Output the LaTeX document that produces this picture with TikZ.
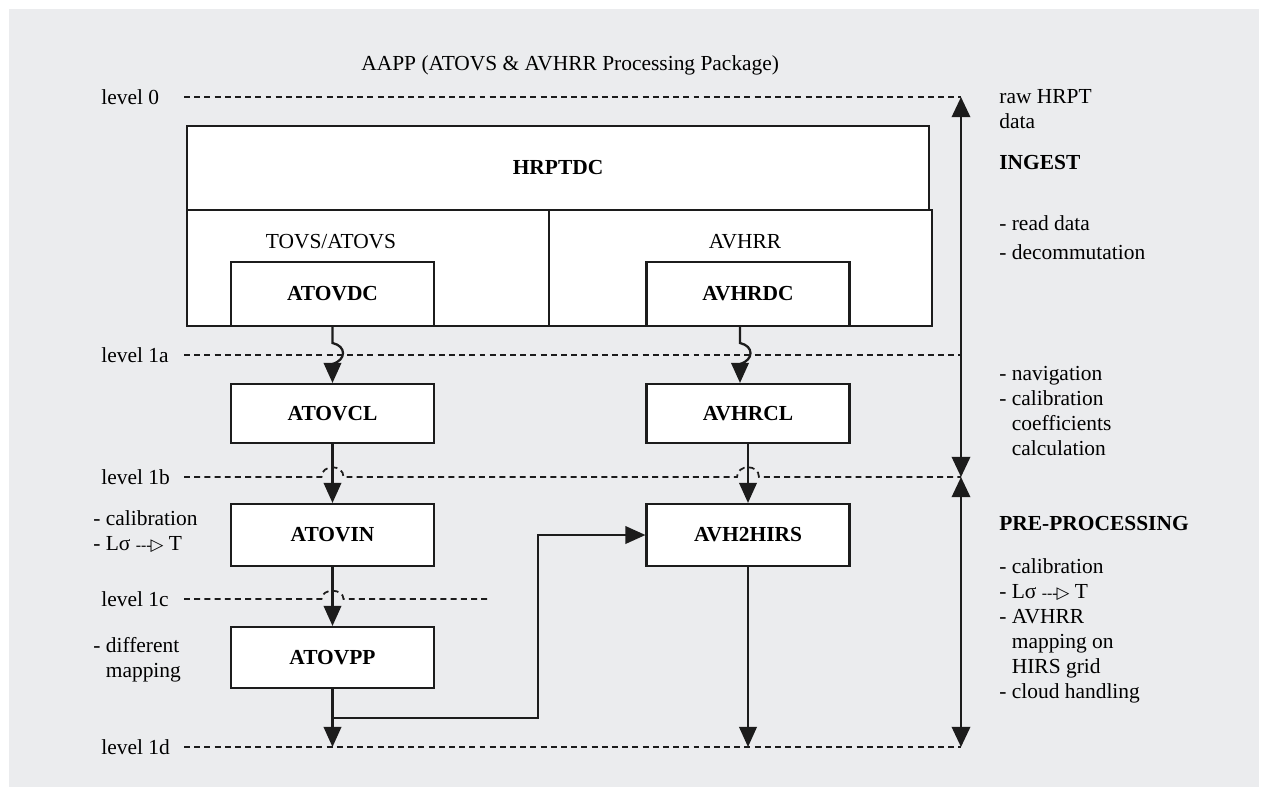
\documentclass[tikz,border=0pt]{standalone}
\usepackage{fontspec}
\setmainfont{Liberation Serif}
\newfontfamily\symfont{DejaVu Sans}
\usepackage{tikz}
\usetikzlibrary{arrows.meta}
\definecolor{panelgray}{rgb}{0.922,0.925,0.933}
\definecolor{inkgray}{rgb}{0.11,0.11,0.11}
\newcommand{\basefont}{\fontsize{12.2}{14.3}\selectfont}
\newcommand{\ltarrow}{{\small -{}-{}-}\kern-0.6pt{\symfont\fontsize{9.5}{10}\selectfont ▷}}
\newcommand{\ind}{\hphantom{-\ }}
\tikzstyle{every node}=[font=\basefont]
\tikzset{
  modbox/.style={draw=inkgray, fill=white, line width=1.2pt, font=\basefont\bfseries, minimum width=4.06cm, inner sep=0pt},
  flow/.style={draw=inkgray, line width=1.3pt, -{Triangle[length=11.5pt,width=10pt]}},
  span/.style={draw=inkgray, line width=1.3pt, {Triangle[length=11.5pt,width=10.5pt]}-{Triangle[length=11.5pt,width=10.5pt]}},
  levelline/.style={draw=inkgray, line width=1pt, dash pattern=on 3.4pt off 2.4pt},
  lbl/.style={anchor=west, inner sep=0pt, align=left}
}

\begin{document}
\begin{tikzpicture}[line cap=butt,line join=miter,x=0.02cm,y=-0.02cm]
\useasboundingbox (0,0) rectangle (1271,792);
\fill[white] (0,0) rectangle (1271,792);
\fill[panelgray] (9,9) rectangle (1259,787);

\node[lbl] (title) at (361,65) {AAPP (ATOVS \& AVHRR Processing Package)};

% levels
\node[lbl] (lv0) at (101,97) {level 0};
\node[lbl] (lv1a) at (101,355) {level 1a};
\node[lbl] (lv1b) at (101,477) {level 1b};
\node[lbl] (lv1c) at (101,599) {level 1c};
\node[lbl] (lv1d) at (101,747) {level 1d};
\coordinate (dstart) at (184,0);
\coordinate (r0) at (961,97);
\coordinate (r1b) at (961,477);
\coordinate (r1d) at (961,747);
\coordinate (c1cend) at (487,599);

% HRPT decommutation
\node[draw=inkgray, fill=white, line width=1pt, minimum width=14.9cm, minimum height=2.32cm, inner sep=0pt] (frame) at (559.5,268) {};
\coordinate (split) at (549,0);
\draw[inkgray, line width=0.9pt] (split |- frame.north) -- (split |- frame.south);
\node[modbox, minimum width=14.84cm, minimum height=1.68cm] (hrptdc) at (558,168) {HRPTDC};
\node (tovs) at (331,242) {TOVS/ATOVS};
\node (avhrr) at (745,242) {AVHRR};
\node[modbox, minimum height=1.28cm] (atovdc) at (332.5,294) {ATOVDC};
\node[modbox, minimum height=1.28cm] (avhrdc) at (748,294) {AVHRDC};

% processing boxes
\node[modbox, minimum height=1.18cm] (atovcl) at (332.5,413.5) {ATOVCL};
\node[modbox, minimum height=1.18cm] (avhrcl) at (748,413.5) {AVHRCL};
\node[modbox, minimum height=1.24cm] (atovin) at (332.5,535) {ATOVIN};
\node[modbox, minimum height=1.24cm] (avhhirs) at (748,535) {AVH2HIRS};
\node[modbox, minimum height=1.22cm] (atovpp) at (332.5,657.5) {ATOVPP};

% crossing points
\coordinate (x1a) at (atovdc.south |- lv1a);
\coordinate (avtop) at ([xshift=-0.16cm]avhrdc.south);
\coordinate (y1a) at (avtop |- lv1a);
\coordinate (x1b) at (atovcl.south |- lv1b);
\coordinate (y1b) at (avhrcl.south |- lv1b);
\coordinate (x1c) at (atovin.south |- lv1c);
\coordinate (bend) at (538,718);

\draw[levelline] (lv0 -| dstart) -- (r0);
\draw[levelline] (lv1a -| dstart) -- (lv1a -| r0);
\draw[levelline] (lv1b -| dstart) -- ([xshift=-0.22cm]x1b) .. controls +(0,0.26cm) and +(0,0.26cm) .. ([xshift=0.22cm]x1b)
  -- ([xshift=-0.22cm]y1b) .. controls +(0,0.26cm) and +(0,0.26cm) .. ([xshift=0.22cm]y1b) -- (r1b);
\draw[levelline] (lv1c -| dstart) -- ([xshift=-0.22cm]x1c) .. controls +(0,0.22cm) and +(0,0.22cm) .. ([xshift=0.22cm]x1c) -- (c1cend);
\draw[levelline] (lv1d -| dstart) -- (r1d);

% data flow
\draw[flow] (atovdc.south) -- ([yshift=0.24cm]x1a) .. controls +(0.28cm,-0.06cm) and +(0.28cm,0.08cm) .. ([yshift=-0.18cm]x1a) -- (atovcl.north);
\draw[flow] (avtop) -- ([yshift=0.24cm]y1a) .. controls +(0.28cm,-0.06cm) and +(0.28cm,0.08cm) .. ([yshift=-0.18cm]y1a) -- (avtop |- avhrcl.north);
\draw[flow] (atovcl.south) -- (atovin.north);
\draw[flow] (avhrcl.south) -- (avhhirs.north);
\draw[flow] (atovin.south) -- (atovpp.north);
\draw[flow] (atovpp.south) -- (atovpp.south |- lv1d);
\draw[flow] (avhhirs.south) -- (avhhirs.south |- lv1d);
\draw[flow] (atovpp.south |- bend) -- (bend) |- (avhhirs.west);

% ingest and pre-processing spans
\draw[span] (r0) -- (r1b);
\draw[span] (r1b) -- (r1d);

% notes
\node[lbl] (notein) at (93,531.5) {- calibration\\- Lσ \ltarrow{} T};
\node[lbl] (notepp) at (93,659.5) {- different\\\ind mapping};
\node[lbl] (raw) at (999,109) {raw HRPT\\data};
\node[lbl, font=\basefont\bfseries] (ingest) at (999,163) {INGEST};
\node[lbl] (ingtasks) at (999,237.5) {- read data\\[2.5pt]- decommutation};
\node[lbl] (navtasks) at (999,411) {- navigation\\- calibration\\\ind coefficients\\\ind calculation};
\node[lbl, font=\basefont\bfseries] (preproc) at (999,523) {PRE-PROCESSING};
\node[lbl] (pptasks) at (999,631) {- calibration\\- Lσ \ltarrow{} T\\- AVHRR\\\ind mapping on\\\ind HIRS grid\\- cloud handling};
\end{tikzpicture}
\end{document}
